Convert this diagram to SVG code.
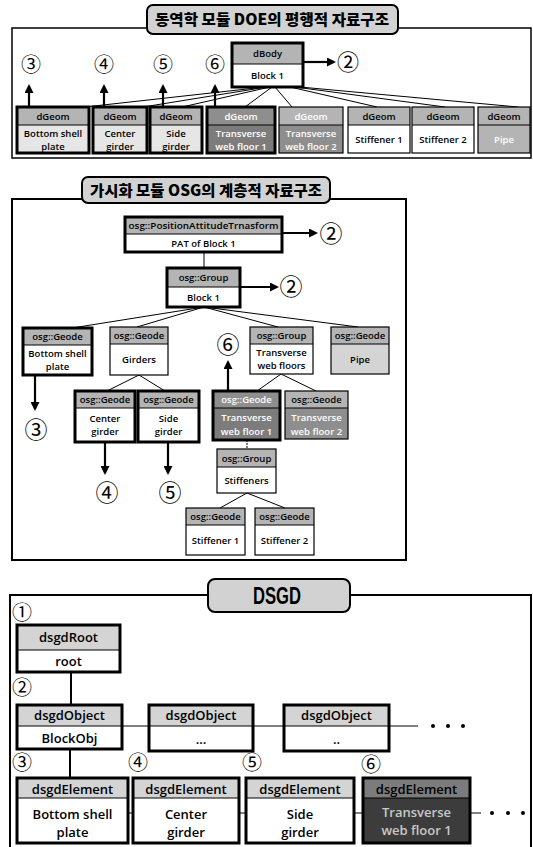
<svg xmlns="http://www.w3.org/2000/svg" width="533" height="847" viewBox="0 0 533 847">
<style>
.frame{fill:none;stroke:#000;stroke-width:1.5}
.frameB{fill:none;stroke:#000;stroke-width:2}
.title{fill:#d2d2d2;stroke:#000;stroke-width:2}
.ttl{font-family:"Noto Sans CJK KR","Liberation Sans",sans-serif;font-weight:900;font-size:15px;text-anchor:middle;fill:#000}
.t{font-family:"Open Sans","Liberation Sans",sans-serif;font-weight:600;font-size:9.5px;text-anchor:middle;fill:#000}
.tb{font-family:"Open Sans","Liberation Sans",sans-serif;font-weight:600;font-size:13px;text-anchor:middle;fill:#000}
.tw{fill:#fff}
.hd{fill:#b4b4b4}
.hl{fill:#d4d4d4}
.bl{fill:#e6e6e6}
.bw{fill:#fff}
.dk{fill:#7c7c7c}
.dk2{fill:#8e8e8e}
.vdk{fill:#3c3c3c}
.k3{fill:none;stroke:#000;stroke-width:3}
.k1{fill:none;stroke:#000;stroke-width:1.2}
.div{stroke:#000;stroke-width:1}
.ln{stroke:#000;stroke-width:1;fill:none}
.ar{stroke:#000;stroke-width:2.2;fill:none}
.num{font-family:"Noto Sans CJK KR","DejaVu Sans",sans-serif;text-anchor:middle;fill:#000}
</style>
<defs>
<marker id="ah" markerUnits="userSpaceOnUse" markerWidth="9" markerHeight="9" refX="7" refY="4.5" orient="auto">
<path d="M0,0 L9,4.5 L0,9 z" fill="#000"/>
</marker>
</defs>

<!-- ===== TOP SECTION ===== -->
<g id="frame-top"><path class="frame" d="M147,28 H12 V158 H531 V28 H398"/></g>
<g id="title-top"><rect class="title" x="147" y="5" width="251" height="29" rx="6"/><text class="ttl" x="272" y="25" textLength="234" lengthAdjust="spacingAndGlyphs">동역학 모듈 DOE의 평행적 자료구조</text></g>

<g id="connectors-top">
<line class="ln" x1="265" y1="87" x2="85" y2="107"/>
<line class="ln" x1="267" y1="87" x2="143" y2="107"/>
<line class="ln" x1="270" y1="87" x2="182" y2="107"/>
<line class="ln" x1="272" y1="87" x2="245" y2="107"/>
<line class="ln" x1="275" y1="87" x2="292" y2="107"/>
<line class="ln" x1="290" y1="87" x2="377" y2="107"/>
<line class="ln" x1="295" y1="87" x2="445" y2="107"/>
<line class="ln" x1="300" y1="87" x2="518" y2="107"/>
<line class="ar" x1="303" y1="62" x2="334" y2="62" marker-end="url(#ah)"/>
<line class="ar" x1="29" y1="107" x2="29" y2="86" marker-end="url(#ah)"/>
<line class="ar" x1="104" y1="107" x2="104" y2="86" marker-end="url(#ah)"/>
<line class="ar" x1="163" y1="107" x2="163" y2="86" marker-end="url(#ah)"/>
<line class="ar" x1="215" y1="107" x2="215" y2="86" marker-end="url(#ah)"/>
</g>
<g id="nums-top">
<text class="num" x="348" y="70" font-size="22">②</text>
<text class="num" x="31" y="72" font-size="20">③</text>
<text class="num" x="104" y="72" font-size="20">④</text>
<text class="num" x="163" y="72" font-size="20">⑤</text>
<text class="num" x="215" y="72" font-size="20">⑥</text>
</g>

<g id="dBody">
<rect class="hd" x="232" y="43" width="71" height="21"/><rect class="bw" x="232" y="64" width="71" height="23"/>
<line class="div" x1="232" y1="64" x2="303" y2="64"/><rect class="k3" x="232" y="43" width="71" height="44"/>
<text class="t" x="267.5" y="57">dBody</text><text class="t" x="267.5" y="79">Block 1</text>
</g>
<g id="t-bottom-shell">
<rect class="hd" x="17" y="107" width="72" height="18"/><rect class="bl" x="17" y="125" width="72" height="28"/>
<line class="div" x1="17" y1="125" x2="89" y2="125"/><rect class="k3" x="17" y="107" width="72" height="46"/>
<text class="t" x="53" y="120">dGeom</text><text class="t" x="53" y="136.5">Bottom shell</text><text class="t" x="53" y="149.5">plate</text>
</g>
<g id="t-center-girder">
<rect class="hd" x="93" y="107" width="54" height="18"/><rect class="bl" x="93" y="125" width="54" height="28"/>
<line class="div" x1="93" y1="125" x2="147" y2="125"/><rect class="k3" x="93" y="107" width="54" height="46"/>
<text class="t" x="120" y="120">dGeom</text><text class="t" x="120" y="136.5">Center</text><text class="t" x="120" y="149.5">girder</text>
</g>
<g id="t-side-girder">
<rect class="hd" x="150" y="107" width="52" height="18"/><rect class="bl" x="150" y="125" width="52" height="28"/>
<line class="div" x1="150" y1="125" x2="202" y2="125"/><rect class="k3" x="150" y="107" width="52" height="46"/>
<text class="t" x="176" y="120">dGeom</text><text class="t" x="176" y="136.5">Side</text><text class="t" x="176" y="149.5">girder</text>
</g>
<g id="t-twf1">
<rect class="dk2" x="207" y="107" width="68" height="18"/><rect class="dk" x="207" y="125" width="68" height="28"/>
<line class="div" x1="207" y1="125" x2="275" y2="125"/><rect class="k3" x="207" y="107" width="68" height="46"/>
<text class="t tw" x="241" y="120">dGeom</text><text class="t tw" x="241" y="136.5">Transverse</text><text class="t tw" x="241" y="149.5">web floor 1</text>
</g>
<g id="t-twf2">
<rect class="hd" x="279" y="107" width="64" height="18"/><rect class="dk2" x="279" y="125" width="64" height="28"/>
<line class="div" x1="279" y1="125" x2="343" y2="125"/><rect class="k1" x="279" y="107" width="64" height="46"/>
<text class="t tw" x="311" y="120">dGeom</text><text class="t tw" x="311" y="136.5">Transverse</text><text class="t tw" x="311" y="149.5">web floor 2</text>
</g>
<g id="t-stiff1">
<rect class="hd" x="348" y="107" width="62" height="18"/><rect class="bw" x="348" y="125" width="62" height="28"/>
<line class="div" x1="348" y1="125" x2="410" y2="125"/><rect class="k1" x="348" y="107" width="62" height="46"/>
<text class="t" x="379" y="120">dGeom</text><text class="t" x="379" y="143">Stiffener 1</text>
</g>
<g id="t-stiff2">
<rect class="hd" x="412" y="107" width="62" height="18"/><rect class="bw" x="412" y="125" width="62" height="28"/>
<line class="div" x1="412" y1="125" x2="474" y2="125"/><rect class="k1" x="412" y="107" width="62" height="46"/>
<text class="t" x="443" y="120">dGeom</text><text class="t" x="443" y="143">Stiffener 2</text>
</g>
<g id="t-pipe">
<rect class="hd" x="478" y="107" width="52" height="18"/><rect class="hd" x="478" y="125" width="52" height="28"/>
<line class="div" x1="478" y1="125" x2="530" y2="125"/><rect class="k1" x="478" y="107" width="52" height="46"/>
<text class="t" x="504" y="120">dGeom</text><text class="t tw" x="504" y="143">Pipe</text>
</g>

<!-- ===== MIDDLE SECTION ===== -->
<g id="frame-mid"><path class="frameB" d="M82,199 H12 V560 H406 V199 H330"/></g>
<g id="title-mid"><rect class="title" x="82" y="177" width="248" height="26" rx="6"/><text class="ttl" x="206" y="196" textLength="232" lengthAdjust="spacingAndGlyphs">가시화 모듈 OSG의 계층적 자료구조</text></g>

<g id="connectors-mid">
<line class="ar" x1="282" y1="233" x2="316" y2="233" marker-end="url(#ah)"/>
<line class="ar" x1="240" y1="287" x2="277" y2="287" marker-end="url(#ah)"/>
<line class="ln" x1="204" y1="252" x2="204" y2="268"/>
<line class="ln" x1="204" y1="307" x2="72" y2="328"/>
<line class="ln" x1="204" y1="307" x2="137" y2="327"/>
<line class="ln" x1="204" y1="307" x2="278" y2="327"/>
<line class="ln" x1="204" y1="307" x2="358" y2="327"/>
<line class="ar" x1="35" y1="375" x2="35" y2="409" marker-end="url(#ah)"/>
<line class="ln" x1="139" y1="375" x2="107" y2="391"/>
<line class="ln" x1="139" y1="375" x2="165" y2="391"/>
<line class="ar" x1="105" y1="442" x2="105" y2="473" marker-end="url(#ah)"/>
<line class="ar" x1="168" y1="442" x2="168" y2="473" marker-end="url(#ah)"/>
<line class="ln" x1="281" y1="374" x2="257" y2="391"/>
<line class="ln" x1="281" y1="374" x2="316" y2="391"/>
<line class="ar" x1="228" y1="391" x2="228" y2="362" marker-end="url(#ah)"/>
<line class="ln" x1="247" y1="440" x2="247" y2="449" stroke-dasharray="2,1"/>
<line class="ln" x1="247" y1="493" x2="220" y2="508"/>
<line class="ln" x1="247" y1="493" x2="285" y2="508"/>
</g>
<g id="nums-mid">
<text class="num" x="331" y="242" font-size="23">②</text>
<text class="num" x="291" y="295" font-size="23">②</text>
<text class="num" x="228" y="353" font-size="23">⑥</text>
<text class="num" x="36" y="438" font-size="23">③</text>
<text class="num" x="107" y="501" font-size="23">④</text>
<text class="num" x="170" y="501" font-size="23">⑤</text>
</g>

<g id="m-pat">
<rect class="hd" x="125" y="217" width="157" height="17"/><rect class="bw" x="125" y="234" width="157" height="18"/>
<line class="div" x1="125" y1="234" x2="282" y2="234"/><rect class="k3" x="125" y="217" width="157" height="35"/>
<text class="t" x="203.5" y="229" textLength="150" lengthAdjust="spacingAndGlyphs">osg::PositionAttitudeTrnasform</text><text class="t" x="203.5" y="247">PAT of Block 1</text>
</g>
<g id="m-group">
<rect class="hd" x="167" y="268" width="73" height="19"/><rect class="bw" x="167" y="287" width="73" height="20"/>
<line class="div" x1="167" y1="287" x2="240" y2="287"/><rect class="k3" x="167" y="268" width="73" height="39"/>
<text class="t" x="203.5" y="281">osg::Group</text><text class="t" x="203.5" y="301">Block 1</text>
</g>
<g id="m-bottom-shell">
<rect class="hd" x="23" y="328" width="69" height="17"/><rect class="bw" x="23" y="345" width="69" height="30"/>
<line class="div" x1="23" y1="345" x2="92" y2="345"/><rect class="k3" x="23" y="328" width="69" height="47"/>
<text class="t" x="57.5" y="340">osg::Geode</text><text class="t" x="57.5" y="357">Bottom shell</text><text class="t" x="57.5" y="370">plate</text>
</g>
<g id="m-girders">
<rect class="hd" x="110" y="327" width="58" height="17"/><rect class="bw" x="110" y="344" width="58" height="31"/>
<line class="div" x1="110" y1="344" x2="168" y2="344"/><rect class="k1" x="110" y="327" width="58" height="48"/>
<text class="t" x="139" y="339">osg::Geode</text><text class="t" x="139" y="363">Girders</text>
</g>
<g id="m-twfs">
<rect class="hd" x="250" y="327" width="63" height="17"/><rect class="bw" x="250" y="344" width="63" height="30"/>
<line class="div" x1="250" y1="344" x2="313" y2="344"/><rect class="k1" x="250" y="327" width="63" height="47"/>
<text class="t" x="281.5" y="339">osg::Group</text><text class="t" x="281.5" y="356">Transverse</text><text class="t" x="281.5" y="369">web floors</text>
</g>
<g id="m-pipe">
<rect class="hd" x="331" y="327" width="58" height="17"/><rect class="hl" x="331" y="344" width="58" height="30"/>
<line class="div" x1="331" y1="344" x2="389" y2="344"/><rect class="k1" x="331" y="327" width="58" height="47"/>
<text class="t" x="360" y="339">osg::Geode</text><text class="t" x="360" y="363">Pipe</text>
</g>
<g id="m-center-girder">
<rect class="hd" x="75" y="391" width="60" height="17"/><rect class="bw" x="75" y="408" width="60" height="34"/>
<line class="div" x1="75" y1="408" x2="135" y2="408"/><rect class="k3" x="75" y="391" width="60" height="51"/>
<text class="t" x="105" y="421.5">Center</text><text class="t" x="105" y="403">osg::Geode</text><text class="t" x="105" y="435">girder</text>
</g>
<g id="m-side-girder">
<rect class="hd" x="138" y="391" width="61" height="17"/><rect class="bw" x="138" y="408" width="61" height="34"/>
<line class="div" x1="138" y1="408" x2="199" y2="408"/><rect class="k3" x="138" y="391" width="61" height="51"/>
<text class="t" x="168.5" y="403">osg::Geode</text><text class="t" x="168.5" y="421.5">Side</text><text class="t" x="168.5" y="435">girder</text>
</g>
<g id="m-twf1">
<rect class="dk2" x="213" y="391" width="67" height="17"/><rect class="dk" x="213" y="408" width="67" height="32"/>
<line class="div" x1="213" y1="408" x2="280" y2="408"/><rect class="k3" x="213" y="391" width="67" height="49"/>
<text class="t tw" x="246.5" y="403">osg::Geode</text><text class="t tw" x="246.5" y="421">Transverse</text><text class="t tw" x="246.5" y="434.5">web floor 1</text>
</g>
<g id="m-twf2">
<rect class="hd" x="285" y="391" width="63" height="17"/><rect class="dk2" x="285" y="408" width="63" height="31"/>
<line class="div" x1="285" y1="408" x2="348" y2="408"/><rect class="k1" x="285" y="391" width="63" height="48"/>
<text class="t" x="316.5" y="403">osg::Geode</text><text class="t tw" x="316.5" y="421">Transverse</text><text class="t tw" x="316.5" y="434.5">web floor 2</text>
</g>
<g id="m-stiffeners">
<rect class="hd" x="217" y="449" width="59" height="18"/><rect class="bw" x="217" y="467" width="59" height="26"/>
<line class="div" x1="217" y1="467" x2="276" y2="467"/><rect class="k1" x="217" y="449" width="59" height="44"/>
<text class="t" x="246.5" y="462">osg::Group</text><text class="t" x="246.5" y="484">Stiffeners</text>
</g>
<g id="m-stiff1">
<rect class="hd" x="186" y="508" width="59" height="17"/><rect class="bw" x="186" y="525" width="59" height="30"/>
<line class="div" x1="186" y1="525" x2="245" y2="525"/><rect class="k1" x="186" y="508" width="59" height="47"/>
<text class="t" x="215.5" y="520">osg::Geode</text><text class="t" x="215.5" y="544">Stiffener 1</text>
</g>
<g id="m-stiff2">
<rect class="hd" x="255" y="508" width="59" height="17"/><rect class="bw" x="255" y="525" width="59" height="30"/>
<line class="div" x1="255" y1="525" x2="314" y2="525"/><rect class="k1" x="255" y="508" width="59" height="47"/>
<text class="t" x="284.5" y="520">osg::Geode</text><text class="t" x="284.5" y="544">Stiffener 2</text>
</g>

<!-- ===== BOTTOM SECTION ===== -->
<g id="frame-bot"><path class="frameB" d="M208,595 H10 V847 M350,595 H531 V847"/></g>
<g id="title-bot"><rect class="title" x="208" y="579" width="142" height="33" rx="7"/><text x="277" y="604" text-anchor="middle" font-family="Liberation Sans, sans-serif" font-weight="bold" font-size="24" textLength="48" lengthAdjust="spacingAndGlyphs">DSGD</text></g>

<g id="connectors-bot">
<line x1="71" y1="672" x2="71" y2="705" stroke="#000" stroke-width="2"/>
<line class="ln" x1="122" y1="726" x2="149" y2="726"/>
<line class="ln" x1="253" y1="726" x2="284" y2="726"/>
<line class="ln" x1="389" y1="726" x2="418" y2="726"/>
<circle cx="433" cy="726" r="2"/><circle cx="448" cy="726" r="2"/><circle cx="463" cy="726" r="2"/>
<line x1="70" y1="749" x2="70" y2="778" stroke="#000" stroke-width="2"/>
<line class="ln" x1="128" y1="813" x2="133" y2="813"/>
<line class="ln" x1="239" y1="813" x2="246" y2="813"/>
<line class="ln" x1="354" y1="813" x2="363" y2="813"/>
<line class="ln" x1="470" y1="813" x2="481" y2="813"/>
<circle cx="492" cy="813" r="2"/><circle cx="508" cy="813" r="2"/><circle cx="523" cy="813" r="2"/>
</g>
<g id="nums-bot">
<text class="num" x="22" y="620" font-size="20">①</text>
<text class="num" x="22" y="695" font-size="20">②</text>
<text class="num" x="22" y="770" font-size="20">③</text>
<text class="num" x="138" y="770" font-size="20">④</text>
<text class="num" x="252" y="770" font-size="20">⑤</text>
<text class="num" x="371" y="772" font-size="20">⑥</text>
</g>

<g id="b-root">
<rect class="hl" x="17" y="625" width="103" height="25"/><rect class="bw" x="17" y="650" width="103" height="22"/>
<line class="div" x1="17" y1="650" x2="120" y2="650"/><rect class="k3" x="17" y="625" width="103" height="47"/>
<text class="tb" x="68.5" y="642" font-weight="bold">dsgdRoot</text><text class="tb" x="68.5" y="666">root</text>
</g>
<g id="b-obj1">
<rect class="hl" x="17" y="705" width="105" height="21"/><rect class="bw" x="17" y="726" width="105" height="23"/>
<line class="div" x1="17" y1="726" x2="122" y2="726"/><rect class="k3" x="17" y="705" width="105" height="44"/>
<text class="tb" x="69.5" y="720" font-weight="bold">dsgdObject</text><text class="tb" x="69.5" y="743">BlockObj</text>
</g>
<g id="b-obj2">
<rect class="hl" x="149" y="705" width="104" height="21"/><rect class="bw" x="149" y="726" width="104" height="25"/>
<line class="div" x1="149" y1="726" x2="253" y2="726"/><rect class="k3" x="149" y="705" width="104" height="46"/>
<text class="tb" x="201" y="720" font-weight="bold">dsgdObject</text><text class="tb" x="201" y="744">...</text>
</g>
<g id="b-obj3">
<rect class="hl" x="284" y="705" width="105" height="21"/><rect class="bw" x="284" y="726" width="105" height="25"/>
<line class="div" x1="284" y1="726" x2="389" y2="726"/><rect class="k3" x="284" y="705" width="105" height="46"/>
<text class="tb" x="336.5" y="720" font-weight="bold">dsgdObject</text><text class="tb" x="336.5" y="744">..</text>
</g>
<g id="b-el1">
<rect class="hl" x="17" y="778" width="111" height="20"/><rect class="bw" x="17" y="798" width="111" height="45"/>
<line class="div" x1="17" y1="798" x2="128" y2="798"/><rect class="k3" x="17" y="778" width="111" height="65"/>
<text class="tb" x="72.5" y="794" font-weight="bold">dsgdElement</text><text class="tb" x="72.5" y="819">Bottom shell</text><text class="tb" x="72.5" y="837">plate</text>
</g>
<g id="b-el2">
<rect class="hl" x="133" y="778" width="106" height="20"/><rect class="bw" x="133" y="798" width="106" height="45"/>
<line class="div" x1="133" y1="798" x2="239" y2="798"/><rect class="k3" x="133" y="778" width="106" height="65"/>
<text class="tb" x="186" y="794" font-weight="bold">dsgdElement</text><text class="tb" x="186" y="819">Center</text><text class="tb" x="186" y="837">girder</text>
</g>
<g id="b-el3">
<rect class="hl" x="246" y="778" width="108" height="20"/><rect class="bw" x="246" y="798" width="108" height="45"/>
<line class="div" x1="246" y1="798" x2="354" y2="798"/><rect class="k3" x="246" y="778" width="108" height="65"/>
<text class="tb" x="300" y="794" font-weight="bold">dsgdElement</text><text class="tb" x="300" y="819">Side</text><text class="tb" x="300" y="837">girder</text>
</g>
<g id="b-el4">
<rect class="dk" x="363" y="778" width="107" height="20"/><rect class="vdk" x="363" y="798" width="107" height="45"/>
<line class="div" x1="363" y1="798" x2="470" y2="798"/><rect class="k3" x="363" y="778" width="107" height="65"/>
<text class="tb" x="416.5" y="794" font-weight="bold">dsgdElement</text><text class="tb" x="416.5" y="817" style="fill:#c8c8c8">Transverse</text><text class="tb" x="416.5" y="835" style="fill:#c8c8c8">web floor 1</text>
</g>
</svg>
